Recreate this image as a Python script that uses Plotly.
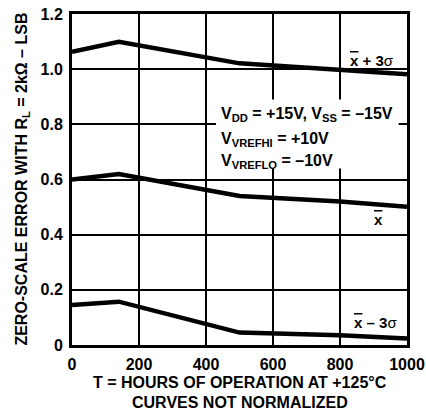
import plotly.graph_objects as go

hours = [0, 140, 500, 800, 1000]
x_plus_3s = [1.063, 1.099, 1.021, 0.999, 0.982]
x_mean = [0.600, 0.620, 0.540, 0.520, 0.501]
x_minus_3s = [0.145, 0.157, 0.045, 0.035, 0.024]

x_ticks = [0, 200, 400, 600, 800, 1000]
y_ticks = [0, 0.2, 0.4, 0.6, 0.8, 1.0, 1.2]
y_tick_labels = ["0", "0.2", "0.4", "0.6", "0.8", "1.0", "1.2"]

FONT = "Liberation Sans, Arial, sans-serif"

fig = go.Figure()
for ys in (x_plus_3s, x_mean, x_minus_3s):
    fig.add_trace(go.Scatter(x=hours, y=ys, mode="lines",
                             line=dict(color="black", width=4.5),
                             showlegend=False, hoverinfo="skip"))

# white box behind the conditions text
fig.add_shape(type="rect", x0=430, x1=975, y0=0.64, y1=0.89,
              xref="x", yref="y", fillcolor="white", line=dict(width=0),
              layer="above")

xbar = "<span style='text-decoration:overline'>x</span>"
labels = [
    (895, 1.03, xbar + " + 3<span style='font-weight:normal'>σ</span>"),
    (914, 0.456, xbar),
    (905, 0.083, xbar + " – 3<span style='font-weight:normal'>σ</span>"),
]
for x, y, t in labels:
    fig.add_annotation(x=x, y=y, text="<b>" + t + "</b>", showarrow=False,
                       font=dict(family=FONT, size=15, color="black"),
                       xanchor="center", yanchor="middle")

cond = [
    (0.835, "V<sub>DD</sub> = +15V, V<sub>SS</sub> = –15V"),
    (0.744, "V<sub>VREFHI</sub> = +10V"),
    (0.667, "V<sub>VREFLO</sub> = –10V"),
]
for y, t in cond:
    fig.add_annotation(x=439, y=y, text="<b>" + t + "</b>", showarrow=False,
                       font=dict(family=FONT, size=16, color="black"),
                       xanchor="left", yanchor="middle")

# axis titles
fig.add_annotation(xref="paper", yref="paper", x=-0.149, y=0.5, textangle=-90,
                   text="<b>ZERO-SCALE ERROR WITH R<sub>L</sub> = 2kΩ – LSB</b>",
                   showarrow=False, font=dict(family=FONT, size=16, color="black"),
                   xanchor="center", yanchor="middle")
fig.add_annotation(xref="paper", yref="paper", x=0.5, y=-0.112,
                   text="<b>T = HOURS OF OPERATION AT +125°C</b>",
                   showarrow=False, font=dict(family=FONT, size=16, color="black"),
                   xanchor="center", yanchor="middle")
fig.add_annotation(xref="paper", yref="paper", x=0.5, y=-0.175,
                   text="<b>CURVES NOT NORMALIZED</b>",
                   showarrow=False, font=dict(family=FONT, size=16, color="black"),
                   xanchor="center", yanchor="middle")

fig.update_layout(
    width=426, height=410,
    margin=dict(l=72, r=19, t=14, b=65),
    paper_bgcolor="white", plot_bgcolor="white",
    font=dict(family=FONT, size=16, color="black"),
)
fig.update_xaxes(
    range=[0, 1000], tickvals=x_ticks, ticktext=[str(v) for v in x_ticks],
    showgrid=True, gridcolor="black", gridwidth=1.5,
    showline=True, linecolor="black", linewidth=3, mirror=True,
    zeroline=False, ticks="", ticklabelstandoff=3, automargin=False,
    ticklabeloverflow="allow",
    tickfont=dict(family=FONT, size=16, weight="bold"),
)
fig.update_yaxes(
    range=[0, 1.2], tickvals=y_ticks, ticktext=y_tick_labels,
    showgrid=True, gridcolor="black", gridwidth=1.5,
    showline=True, linecolor="black", linewidth=3, mirror=True,
    zeroline=False, ticks="", ticklabelstandoff=3, automargin=False,
    ticklabeloverflow="allow",
    tickfont=dict(family=FONT, size=16, weight="bold"),
)

# remove the default page margin so the figure fills the window exactly
fig.write_html("out.html",
               config={"displayModeBar": False},
               post_script="document.body.style.margin='0';document.body.style.overflow='hidden';")
